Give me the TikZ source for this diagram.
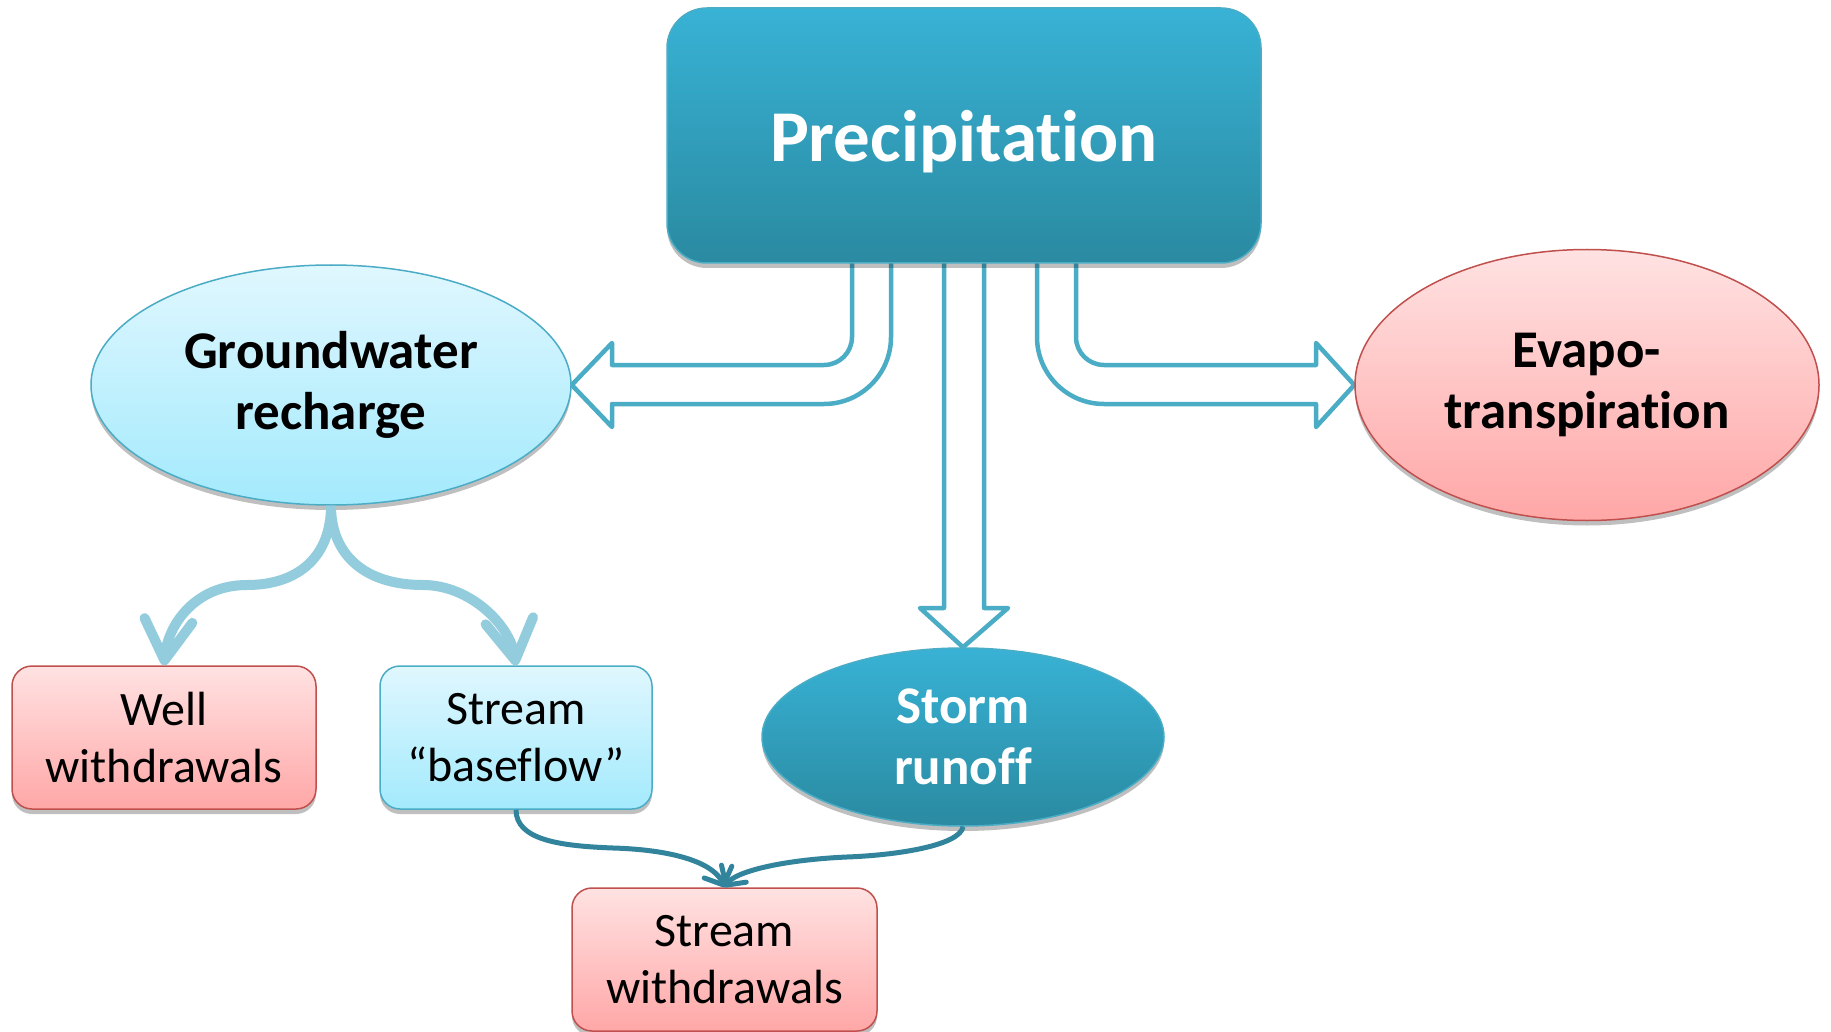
\documentclass[tikz,border=0pt]{standalone}
\usepackage{fontspec}
\setmainfont{Carlito}[Ligatures=NoCommon]
\usetikzlibrary{shapes.geometric,arrows.meta,shadows}
\pgfdeclarelayer{background}
\pgfsetlayers{background,main}

\definecolor{tealtop}{HTML}{38B2D5}
\definecolor{tealbot}{HTML}{2A8AA1}
\definecolor{accblue}{HTML}{4BACC6}
\definecolor{lbtop}{HTML}{E0F7FE}
\definecolor{lbbot}{HTML}{A3EAFD}
\definecolor{pktop}{HTML}{FFE2E2}
\definecolor{pkbot}{HTML}{FFA7A7}
\definecolor{accred}{HTML}{C0504D}
\definecolor{softblue}{HTML}{93CDDD}
\definecolor{darkteal}{HTML}{31849B}

\tikzset{
  shad/.style={drop shadow={shadow xshift=0pt,shadow yshift=-5pt,opacity=0.25,fill=black}},
  bigbold/.style={font=\fontsize{53}{61}\selectfont\bfseries, align=center},
  plain/.style={font=\fontsize{48}{57}\selectfont, align=center},
  tealshape/.style={top color=tealtop, bottom color=tealbot, draw=accblue, line width=1.5pt, shad, text=white},
  lbshape/.style={top color=lbtop, bottom color=lbbot, draw=accblue, line width=1.5pt, shad, text=black},
  pkshape/.style={top color=pktop, bottom color=pkbot, draw=accred, line width=1.5pt, shad, text=black},
  ell/.style={ellipse, inner sep=0pt},
  rbox/.style={rectangle, rounded corners=20pt, inner sep=0pt, minimum width=304pt, minimum height=143pt},
  blockarrow/.style={draw=accblue, line width=4.5pt, fill=white, line join=round},
  softarrow/.style={draw=softblue, line width=10pt, -{Straight Barb[length=40pt,width=48pt,round]}},
  tealarrow/.style={draw=darkteal, line width=5pt, -{Straight Barb[length=14pt,width=30pt,round]}}
}

\begin{document}
\begin{tikzpicture}[x=1pt,y=-1pt]
\useasboundingbox (0,0) rectangle (1831,1032);

% nodes
\node[tealshape, rectangle, rounded corners=40pt, minimum width=594pt, minimum height=255pt,
      text depth=0pt, font=\fontsize{73}{80}\selectfont\bfseries] (precip) at (964,135.5) {Precipitation};
\node[lbshape, ell, minimum width=480pt, minimum height=240pt, bigbold] (gw) at (331,385) {Groundwater\\recharge};
\node[pkshape, ell, minimum width=464pt, minimum height=271pt, bigbold] (evapo) at (1587,385) {Evapo-\\transpiration};
\node[tealshape, ell, minimum width=402pt, minimum height=178pt, bigbold] (storm) at (963,737) {Storm\\runoff};
\node[pkshape, rbox, plain] (well) at (164,737.5) {Well\\withdrawals};
\node[lbshape, rbox, minimum width=272pt, plain] (base) at (516,737.5) {Stream\\“baseflow”};
\node[pkshape, rbox, minimum width=305pt, plain] (sw) at (724.5,959.5) {Stream\\withdrawals};

% block arrows
\begin{pgfonlayer}{background}
\fill[white] (0,0) rectangle (1831,1032);
\draw[blockarrow] (852,250) -- (852,337) .. controls (852,352.5) and (839.5,365) .. (824,365)
  -- (612,365) -- (612,343) -- (gw.east) -- (612,427) -- (612,404) -- (824,404)
  .. controls (861,404) and (891,374) .. (891,337) -- (891,250) -- cycle;
\draw[blockarrow] (1076,250) -- (1076,337) .. controls (1076,352.5) and (1088.5,365) .. (1104,365)
  -- (1316,365) -- (1316,343) -- (evapo.west) -- (1316,427) -- (1316,404) -- (1104,404)
  .. controls (1067,404) and (1037,374) .. (1037,337) -- (1037,250) -- cycle;
\draw[blockarrow] (944,250) -- (944,608) -- (920,608) -- (storm.north) -- (1008,608)
  -- (984,608) -- (984,250) -- cycle;
\end{pgfonlayer}

% groundwater branches
\draw[softarrow] (gw.south) .. controls (331,555) and (300,585) .. (247,585)
  .. controls (195,585) and (168,625) .. (well.north);
\draw[softarrow] (gw.south) .. controls (331,555) and (365,585) .. (423,585)
  .. controls (470,585) and (510,625) .. (base.north);

% stream connectors
\draw[tealarrow] (base.south) .. controls (516,840) and (560,846) .. (613,848)
  .. controls (680,850) and (715,865) .. (sw.north);
\draw[tealarrow] (storm.south) .. controls (960,845) and (900,855) .. (847,857)
  .. controls (780,860) and (735,872) .. (sw.north);
\end{tikzpicture}
\end{document}
